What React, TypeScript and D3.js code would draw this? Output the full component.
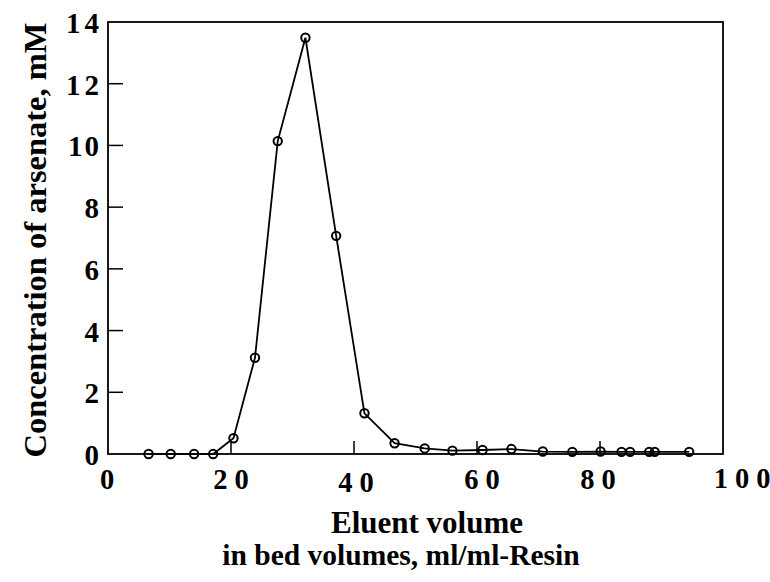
import React from "react";
import * as d3 from "d3";

// Eluted arsenate concentration vs. eluent volume
const volumes = [6.6, 10.2, 14.0, 17.1, 20.4, 23.9, 27.6, 32.1, 37.1, 41.7, 46.6, 51.5, 56.0, 60.9, 65.6, 70.7, 75.5, 80.1, 83.5, 84.9, 88.0, 88.9, 94.5];
const concentrations = [0, 0, 0, 0, 0.51, 3.12, 10.14, 13.49, 7.07, 1.32, 0.35, 0.18, 0.11, 0.13, 0.16, 0.08, 0.07, 0.08, 0.07, 0.07, 0.07, 0.07, 0.07];

const xTickValues = [0, 20, 40, 60, 80, 100];
const xTickLabels = ["0", "20", "40", "60", "80", "100"];
const yTickValues = [0, 2, 4, 6, 8, 10, 12, 14];
const yTickLabels = ["0", "2", "4", "6", "8", "10", "12", "14"];

const yTitle = "Concentration of arsenate, mM";
const xTitle1 = "Eluent volume";
const xTitle2 = "in bed volumes, ml/ml-Resin";

const W = 770;
const H = 582;
const left = 108;
const right = 723;
const top = 22;
const bottom = 454;
const FONT = "'Liberation Serif', 'Times New Roman', serif";

// digits set apart with a fixed gap, without trailing space
function Spaced({ text, gap }: { text: string; gap: number }) {
  return (
    <>
      {text.split("").map((ch, i) => (
        <tspan key={i} dx={i === 0 ? 0 : gap}>
          {ch}
        </tspan>
      ))}
    </>
  );
}

export default function App() {
  const x = d3.scaleLinear().domain([0, 100]).range([left, right]);
  const y = d3.scaleLinear().domain([0, 14]).range([bottom, top]);
  const pts = volumes.map((v, i) => [v, concentrations[i]] as [number, number]);
  const line = d3
    .line<[number, number]>()
    .x((d) => x(d[0]))
    .y((d) => y(d[1]));

  // small per-label nudges for the x tick labels
  const xLabelDx: Record<number, number> = { 0: -1, 40: 2, 60: 5, 80: -2, 100: 19 };
  const xLabelDy: Record<number, number> = { 40: 3, 100: -1 };

  return (
    <svg
      width={W}
      height={H}
      viewBox={`0 0 ${W} ${H}`}
      style={{ position: "absolute", left: 0, top: 0, background: "#fff" }}
    >
      <rect x={0} y={0} width={W} height={H} fill="#fff" />
      {/* frame */}
      <rect x={left} y={top} width={right - left} height={bottom - top} fill="none" stroke="#000" strokeWidth={1.8} />
      {/* y ticks (inward) */}
      {yTickValues.slice(1, -1).map((v) => (
        <line key={"yt" + v} x1={left} x2={left + 15} y1={y(v)} y2={y(v)} stroke="#000" strokeWidth={1.5} />
      ))}
      {/* x ticks (inward) */}
      {xTickValues.slice(1, -1).map((v) => (
        <line key={"xt" + v} x1={x(v)} x2={x(v)} y1={bottom} y2={bottom - 13} stroke="#000" strokeWidth={1.5} />
      ))}
      {/* y tick labels */}
      {yTickValues.map((v, i) => (
        <text
          key={"yl" + v}
          x={99}
          y={y(v) + 11}
          textAnchor="end"
          fontFamily={FONT}
          fontWeight="bold"
          fontSize={29}
        >
          <Spaced text={yTickLabels[i]} gap={v >= 12 ? 4 : 2} />
        </text>
      ))}
      {/* x tick labels */}
      {xTickValues.map((v, i) => (
        <text
          key={"xl" + v}
          x={x(v) + (xLabelDx[v] || 0)}
          y={489 + (xLabelDy[v] || 0)}
          textAnchor="middle"
          fontFamily={FONT}
          fontWeight="bold"
          fontSize={28.5}
        >
          <Spaced text={xTickLabels[i]} gap={v === 100 ? 7 : 7} />
        </text>
      ))}
      {/* series */}
      <path d={line(pts) || ""} fill="none" stroke="#000" strokeWidth={1.8} />
      {pts.map((d, i) => (
        <circle key={"p" + i} cx={x(d[0])} cy={y(d[1])} r={4.2} fill="none" stroke="#000" strokeWidth={2} />
      ))}
      {/* axis titles */}
      <text
        transform={`translate(46,240) rotate(-90)`}
        textAnchor="middle"
        fontFamily={FONT}
        fontWeight="bold"
        fontSize={32.5}
      >
        {yTitle}
      </text>
      <text x={427} y={533} textAnchor="middle" fontFamily={FONT} fontWeight="bold" fontSize={31}>
        {xTitle1}
      </text>
      <text x={401} y={565} textAnchor="middle" fontFamily={FONT} fontWeight="bold" fontSize={29.5}>
        {xTitle2}
      </text>
    </svg>
  );
}
